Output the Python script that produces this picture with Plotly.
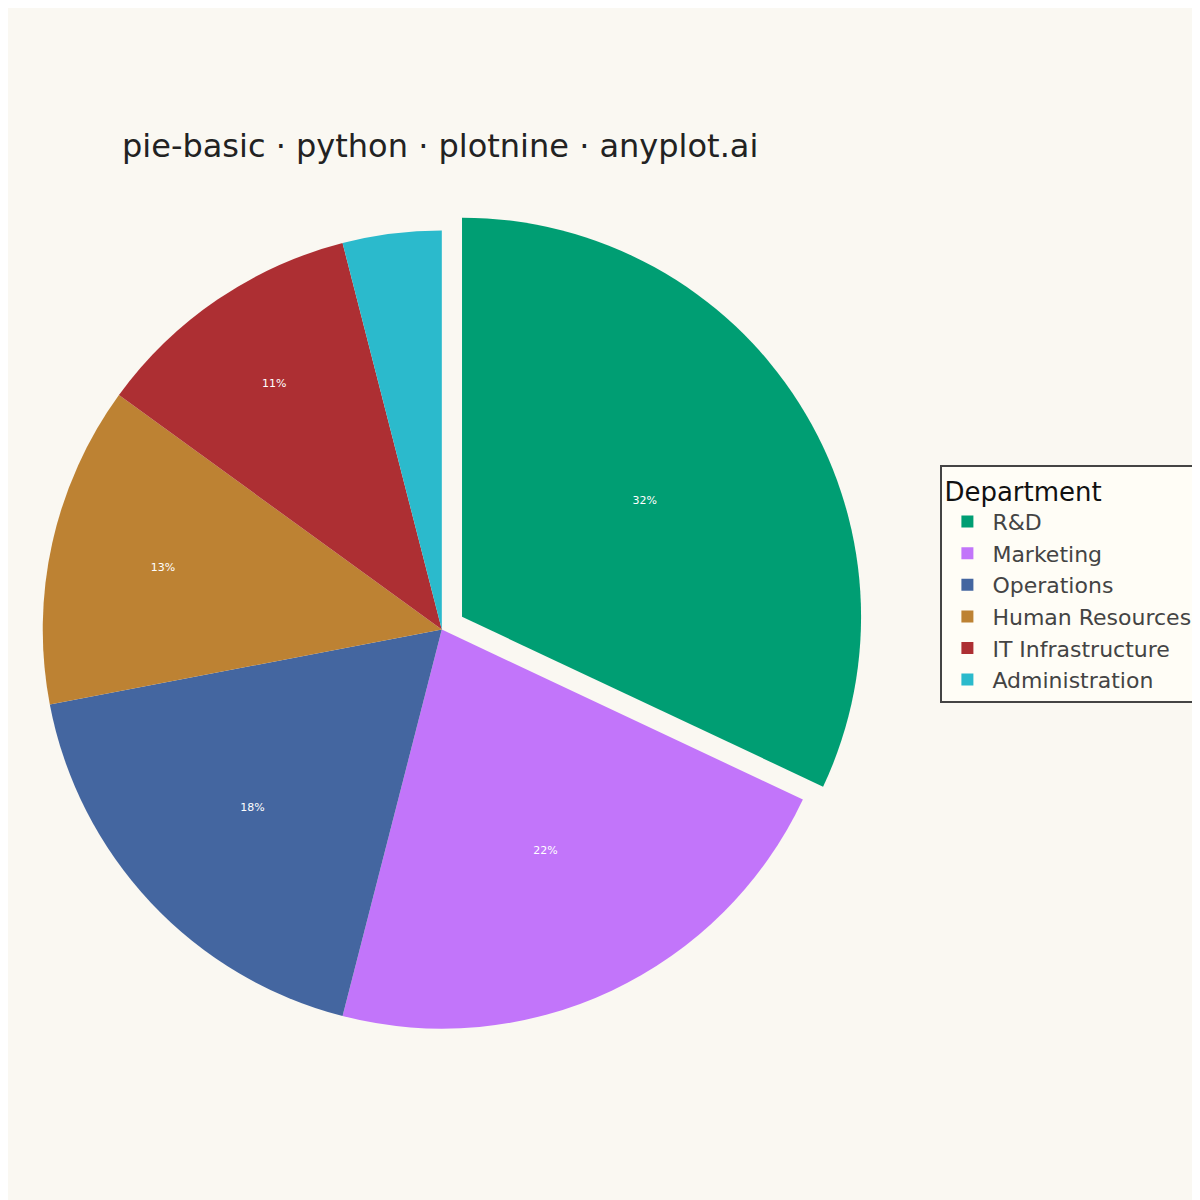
import plotly.graph_objects as go

departments = ["R&D", "Marketing", "Operations", "Human Resources", "IT Infrastructure", "Administration"]
shares = [32, 22, 18, 13, 11, 4]
colors = ["#009E73", "#C275FA", "#4466A0", "#BD8233", "#AD2F33", "#2BBACC"]
pulls = [0.06, 0, 0, 0, 0, 0]
text_tpl = ["%{percent:.0%}"] * 5 + [""]

fig = go.Figure(go.Pie(
    labels=departments, values=shares, sort=False, direction="clockwise", rotation=0,
    marker=dict(colors=colors, line=dict(width=0)), pull=pulls,
    texttemplate=text_tpl, textposition="inside", insidetextorientation="horizontal",
    textfont=dict(size=11, color="white", family="DejaVu Sans"),
    domain=dict(x=[0.009, 0.714], y=[0.1295, 0.8345]), hoverinfo="label+percent",
))
fig.update_layout(
    width=1200, height=1200, paper_bgcolor="#FAF8F2", plot_bgcolor="#FAF8F2",
    margin=dict(l=0, r=0, t=0, b=0),
    font=dict(family="DejaVu Sans", color="#444444"),
    title=dict(text="pie-basic · python · plotnine · anyplot.ai", x=0.095, xanchor="left",
               y=0.885, yanchor="middle", font=dict(size=32, color="#222222")),
    legend=dict(title=dict(text="Department", font=dict(size=26, color="#111111")),
                font=dict(size=22), x=0.777, xanchor="left", y=0.52, yanchor="middle",
                bgcolor="#FFFDF6", bordercolor="#444444", borderwidth=2,
                itemsizing="constant", itemwidth=40),
)
fig.write_html("out.html")
